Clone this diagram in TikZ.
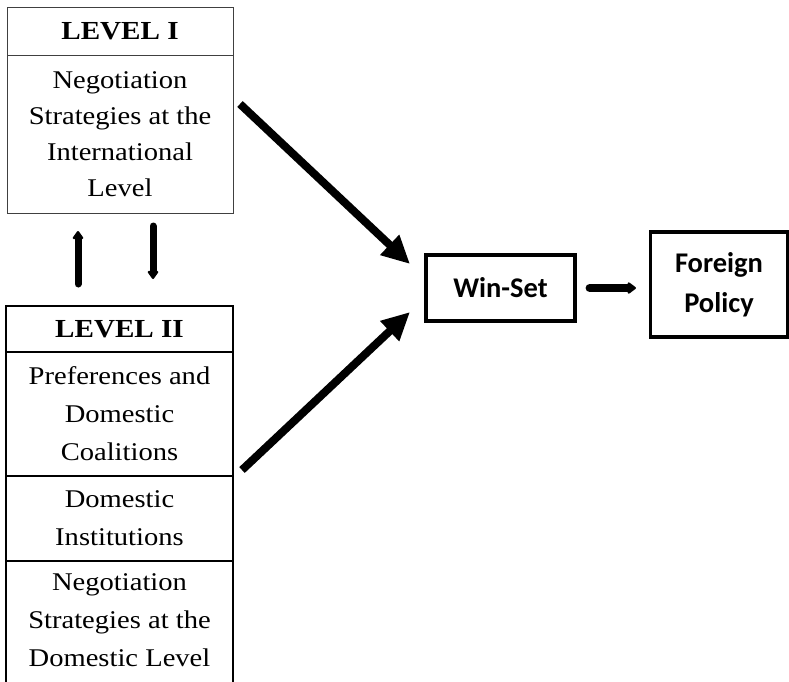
\documentclass[tikz,border=0pt]{standalone}
\usepackage{fontspec}
\setmainfont[FakeStretch=1.12]{Liberation Serif}
\newfontfamily\calib{Carlito}
\usetikzlibrary{arrows.meta}
\begin{document}
\begin{tikzpicture}[x=1pt,y=-1pt,
  thinbox/.style={draw=black!75, line width=1pt, inner sep=0pt, align=center, font=\fontsize{25.5}{36}\selectfont},
  thickbox/.style={draw=black, line width=2pt, inner sep=0pt, outer sep=0pt, align=center, font=\fontsize{25.5}{38}\selectfont},
  textonly/.style={inner sep=0pt, align=center, font=\fontsize{25.5}{38}\selectfont},
  bluebox/.style={draw=black, line width=3.2pt, inner sep=0pt, align=center, font=\calib\bfseries\fontsize{28.5}{40}\selectfont},
  bigarrow/.style={line width=8pt, -{Triangle[length=28pt,width=26pt]}},
  smallarrow/.style={line width=7pt, line cap=round, -{Triangle[length=9pt,width=12pt,round]}}
]
\useasboundingbox (0,0) rectangle (789,681);
\clip (0,0) rectangle (789,681);
% Level I
\node[thinbox, minimum width=226pt, minimum height=48pt, font=\bfseries\fontsize{26}{30}\selectfont] (L1h) at (120,31) {LEVEL I};
\node[thinbox, minimum width=226pt, minimum height=158pt] (L1b) at (120,134) {Negotiation\\Strategies at the\\International\\Level};
% Level II
\node[thickbox, minimum width=227pt, minimum height=46pt, font=\bfseries\fontsize{26}{30}\selectfont] (L2h) at (119.5,329) {LEVEL II};
\node[thickbox, minimum width=227pt, minimum height=124pt] (L2a) at (119.5,414) {Preferences and\\Domestic\\Coalitions};
\node[thickbox, minimum width=227pt, minimum height=85pt] (L2b) at (119.5,518.5) {Domestic\\Institutions};
\draw[line width=2pt] (L2b.south west) -- ++(0,140) (L2b.south east) -- ++(0,140);
\node[textonly] (L2c) at (119.5,620) {Negotiation\\Strategies at the\\Domestic Level};
% Right boxes
\node[bluebox, minimum width=149pt, minimum height=66pt] (ws) at (500.5,288) {Win-Set};
\node[bluebox, minimum width=137pt, minimum height=105pt] (fp) at (719,284.5) {Foreign\\Policy};
% coordinates
\coordinate (a1s) at (240,104);
\coordinate (a1e) at (410,264);
\coordinate (a2s) at (242,470);
\coordinate (a2e) at (410,312);
\coordinate (upS) at (78,284);
\coordinate (upE) at (78,231);
\coordinate (dnS) at (153,226);
\coordinate (dnE) at (153,279);
% arrows
\draw[bigarrow] (a1s) -- (a1e);
\draw[bigarrow] (a2s) -- (a2e);
\draw[smallarrow] (upS) -- (upE);
\draw[smallarrow] (dnS) -- (dnE);
\draw[line width=8pt, line cap=round, -{Triangle[length=9pt,width=13pt,round]}, shorten <=13pt, shorten >=13pt] (ws.east) -- (ws.east -| fp.west);
\end{tikzpicture}
\end{document}
